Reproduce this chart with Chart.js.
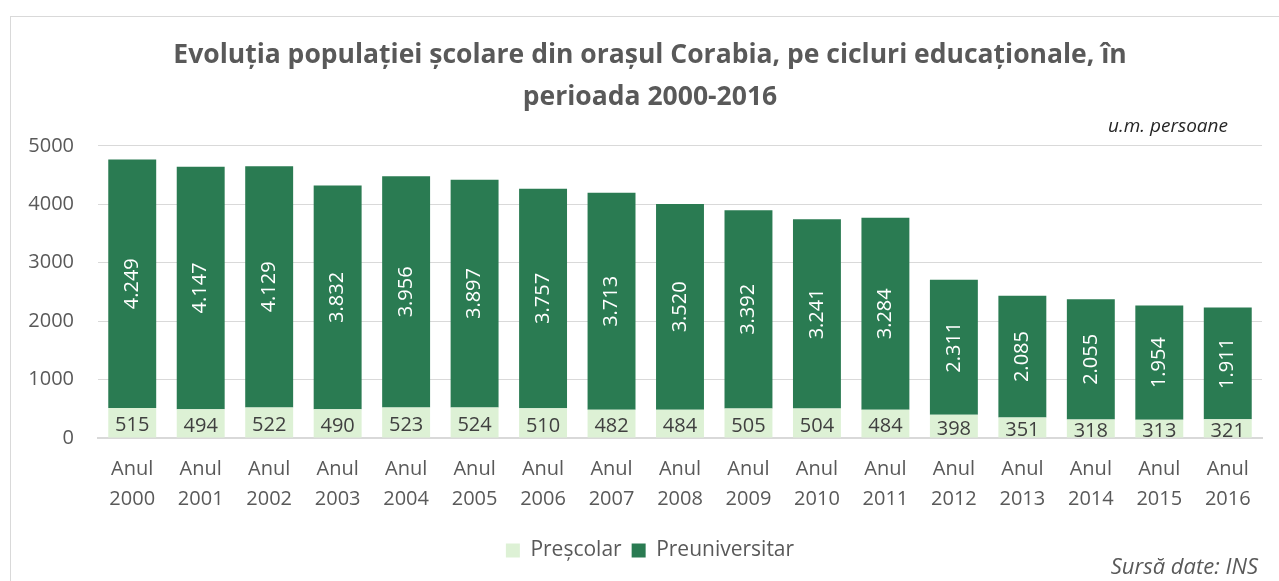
<!DOCTYPE html>
<html>
<head>
<meta charset="utf-8">
<script src="https://cdn.jsdelivr.net/npm/chart.js@4"></script>
<style>
body { margin: 0; background: #fff; }
#wrap { position: relative; width: 1279px; height: 581px; overflow: hidden; }
#frame { position: absolute; left: 10px; top: 16px; width: 1300px; height: 600px; border: 1px solid #d9d9d9; }
canvas { position: absolute; left: 0; top: 0; }
.note { position: absolute; font-family: 'Open Sans', sans-serif; font-style: italic; white-space: nowrap; }
</style>
</head>
<body>
<div id="wrap">
  <div id="frame"></div>
  <canvas id="schoolChart" width="1279" height="581"></canvas>
  <div class="note" style="right:51px; top:112px; font-size:19px; color:#262626;">u.m. persoane</div>
  <div class="note" style="right:21px; top:550px; font-size:22px; color:#595959;">Sursă date: INS</div>
</div>
<script>
const years = ['2000', '2001', '2002', '2003', '2004', '2005', '2006', '2007', '2008',
               '2009', '2010', '2011', '2012', '2013', '2014', '2015', '2016'];
const prescolar = [515, 494, 522, 490, 523, 524, 510, 482, 484, 505, 504, 484, 398, 351, 318, 313, 321];
const preuniversitar = [4249, 4147, 4129, 3832, 3956, 3897, 3757, 3713, 3520, 3392, 3241, 3284, 2311, 2085, 2055, 1954, 1911];
const yMin = 0;
const yMax = 5000;
const yStep = 1000;

const gray = '#595959';
const fontName = "'Open Sans', sans-serif";

// romanian style thousands: 4.249
function fmt(v) {
    return String(v).replace(/\B(?=(\d{3})+(?!\d))/g, '.');
}

// draws the values inside the bars (no datalabels plugin offline)
const barLabels = {
    id: 'barLabels',
    afterDatasetsDraw(chart) {
        const ctx = chart.ctx;
        chart.data.datasets.forEach((ds, i) => {
            const meta = chart.getDatasetMeta(i);
            meta.data.forEach((bar, j) => {
                const txt = fmt(ds.data[j]);
                const cy = (bar.y + bar.base) / 2;
                ctx.save();
                ctx.font = '20px ' + fontName;
                ctx.textAlign = 'center';
                ctx.textBaseline = 'middle';
                if (i == 1) {
                    ctx.translate(bar.x, cy);
                    ctx.rotate(-Math.PI / 2);
                    ctx.fillStyle = '#ffffff';
                    ctx.fillText(txt, 0, 0);
                } else {
                    ctx.fillStyle = '#404040';
                    ctx.fillText(txt, bar.x, cy + 3);
                }
                ctx.restore();
            });
        });
    }
};

var schoolChart = new Chart(document.getElementById('schoolChart'), {
    type: 'bar',
    data: {
        labels: years.map(y => ['Anul', y]),
        datasets: [{
            label: 'Preșcolar',
            data: prescolar,
            backgroundColor: '#ddf1d5',
            barPercentage: 0.7,
            categoryPercentage: 1
        }, {
            label: 'Preuniversitar',
            data: preuniversitar,
            backgroundColor: '#2a7b52',
            barPercentage: 0.7,
            categoryPercentage: 1
        }]
    },
    plugins: [barLabels],
    options: {
        responsive: false,
        animation: false,
        // negative right padding + empty right axis -> title/legend centred a bit right like the original
        layout: { padding: { left: 10, right: -11, top: 0, bottom: 10 } },
        plugins: {
            title: {
                display: true,
                text: ['Evoluția populației școlare din orașul Corabia, pe cicluri educaționale, în', 'perioada 2000-2016'],
                color: gray,
                font: { family: fontName, size: 26.5, weight: 'bold', lineHeight: 1.6 },
                padding: { top: 34, bottom: 27 }
            },
            legend: {
                position: 'bottom',
                labels: {
                    color: gray,
                    font: { family: fontName, size: 21 },
                    boxWidth: 14,
                    boxHeight: 14,
                    padding: 10
                }
            },
            tooltip: { enabled: false }
        },
        scales: {
            x: {
                stacked: true,
                grid: { display: false, drawTicks: false },
                border: { display: true, color: '#d9d9d9', width: 2 },
                ticks: {
                    color: gray,
                    font: { family: fontName, size: 20, lineHeight: 1.5 },
                    padding: 16,
                    maxRotation: 0
                }
            },
            y: {
                stacked: true,
                min: yMin,
                max: yMax,
                grid: { color: '#d9d9d9', drawTicks: false },
                border: { display: false },
                ticks: {
                    stepSize: yStep,
                    color: gray,
                    font: { family: fontName, size: 20 },
                    padding: 24,
                    callback: v => String(v)
                },
                afterFit(scale) { scale.width = 88; }
            },
            spacer: {
                position: 'right',
                min: yMin,
                max: yMax,
                grid: { display: false, drawTicks: false },
                border: { display: false },
                ticks: { display: false },
                afterFit(scale) { scale.width = 28; }
            }
        }
    }
});
</script>
</body>
</html>
